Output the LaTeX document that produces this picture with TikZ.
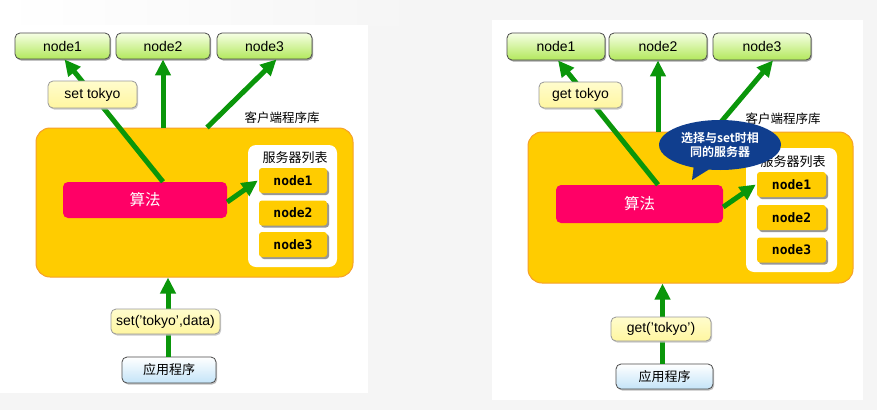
\documentclass[tikz,border=0pt]{standalone}
\usepackage{fontspec}
\setmainfont{Liberation Sans}
\newfontfamily\cjk{Noto Sans CJK SC}[BoldFont={Noto Sans CJK SC Bold}]
\newfontfamily\monob{DejaVu Sans Mono Bold}
\usetikzlibrary{arrows.meta,shadows,shapes.callouts}
\definecolor{bggray}{RGB}{245,245,245}
\definecolor{arrowgreen}{RGB}{10,150,10}
\definecolor{greentop}{RGB}{246,255,228}
\definecolor{greenbot}{RGB}{178,232,92}
\definecolor{labelyellow}{RGB}{255,246,160}
\definecolor{labelyellowtop}{RGB}{255,252,205}
\definecolor{orangefill}{RGB}{255,204,0}
\definecolor{orangeedge}{RGB}{246,160,40}
\definecolor{algred}{RGB}{255,0,102}
\definecolor{bluebot}{RGB}{196,228,248}
\definecolor{calloutblue}{RGB}{16,62,142}
\begin{document}
\begin{tikzpicture}[x=1pt,y=-1pt,
  topnode/.style={draw=black!70, line width=0.8pt, rounded corners=5pt,
    top color=greentop, bottom color=greenbot, inner sep=0pt,
    minimum height=26pt, font=\fontsize{14}{15}\selectfont,
    drop shadow={shadow xshift=1.2pt, shadow yshift=-1.5pt, fill=black!45, opacity=0.8}},
  yellowlabel/.style={draw=black!40, line width=0.8pt, rounded corners=5pt,
    top color=labelyellowtop, bottom color=labelyellow, inner sep=0pt,
    font=\fontsize{14}{16}\selectfont,
    drop shadow={shadow xshift=1.2pt, shadow yshift=-1.5pt, fill=black!25, opacity=0.8}},
  clientbox/.style={draw=orangeedge, line width=1pt, fill=orangefill, rounded corners=14pt, inner sep=0pt},
  algbox/.style={fill=algred, rounded corners=5pt, inner sep=0pt, text=white,
    font=\cjk\fontsize{15.5}{17}\selectfont},
  listbox/.style={fill=white, rounded corners=8pt, inner sep=0pt},
  servernode/.style={fill=orangefill, rounded corners=3pt, inner sep=0pt,
    minimum width=68pt, minimum height=25pt, font=\monob\fontsize{13}{15}\selectfont,
    drop shadow={shadow xshift=2pt, shadow yshift=-2pt, fill=black!45, opacity=0.9}},
  appbox/.style={draw=black!70, line width=0.8pt, rounded corners=5pt,
    top color=white, bottom color=bluebot, inner sep=0pt,
    font=\cjk\fontsize{13}{15}\selectfont,
    drop shadow={shadow xshift=1.2pt, shadow yshift=-1.5pt, fill=black!30, opacity=0.8}},
  cjklabel/.style={font=\cjk\fontsize{12.5}{14}\selectfont, inner sep=0pt},
  greenarrow/.style={draw=arrowgreen, line width=5pt, -{Triangle[length=16pt,width=15pt]}},
]
% background and panels
\fill[bggray] (0,0) rectangle (877,410);
\useasboundingbox (0,0) rectangle (877,410);
\shade[left color=white, right color=bggray] (0,0) rectangle (420,25);
\fill[white] (0,25) rectangle (368,393);
\fill[white] (492,20) rectangle (863,400);

% ================= LEFT =================
\node[topnode, minimum width=95pt] (LN1) at (62.5,46) {node1};
\node[topnode, minimum width=94pt] (LN2) at (163,46) {node2};
\node[topnode, minimum width=95pt] (LN3) at (264.5,46) {node3};
\node[cjklabel] (Llib) at (282,118) {客户端程序库};
\node[clientbox, minimum width=317pt, minimum height=149pt] (Lorange) at (194.5,202.5) {};
\node[algbox, minimum width=164pt, minimum height=36pt] (Lalg) at (145,200) {算法};
\node[listbox, minimum width=89pt, minimum height=122pt] (Lwhite) at (292.5,206) {};
\node[cjklabel, font=\cjk\fontsize{13}{15}\selectfont] (Llist) at (295,158) {服务器列表};
\node[servernode] (Ls1) at (293,180.5) {node1};
\node[servernode] (Ls2) at (293,213) {node2};
\node[servernode] (Ls3) at (293,244.5) {node3};
\node[appbox, minimum width=94pt, minimum height=26pt] (Lapp) at (169,370) {应用程序};

\draw[greenarrow] (Lalg.north -| LN2.south) -- ([xshift=2pt]LN1.south);
\draw[greenarrow] (Lorange.north -| LN2.south) -- (LN2.south);
\draw[greenarrow] ([xshift=12.5pt]Lorange.north) -- ([xshift=12pt]LN3.south);
\draw[greenarrow] ([yshift=-2pt]Lalg.east) -- ([xshift=-1pt]Ls1.west);
\draw[greenarrow] ([xshift=-1pt]Lapp.north) -- ([xshift=-1pt]Lapp.north |- Lorange.south);

\node[yellowlabel, minimum width=89pt, minimum height=27pt] (Lset) at (92.5,94.5) {set tokyo};
\node[yellowlabel, minimum width=109pt, minimum height=25pt] (Lcall) at (165.5,321.5) {set('tokyo',data)};

% ================= RIGHT =================
\node[topnode, minimum width=98pt, minimum height=27pt] (RN1) at (556,46.5) {node1};
\node[topnode, minimum width=98pt, minimum height=27pt] (RN2) at (658,46.5) {node2};
\node[topnode, minimum width=98pt, minimum height=27pt] (RN3) at (762,46.5) {node3};
\node[cjklabel] (Rlib) at (783,119) {客户端程序库};
\node[clientbox, minimum width=325pt, minimum height=151pt] (Rorange) at (690.5,207.5) {};
\node[algbox, minimum width=167pt, minimum height=38pt] (Ralg) at (639.5,204) {算法};
\node[listbox, minimum width=91pt, minimum height=124pt] (Rwhite) at (791.5,210) {};
\node[cjklabel, font=\cjk\fontsize{13}{15}\selectfont] (Rlist) at (793,162) {服务器列表};
\node[servernode, minimum width=69pt] (Rs1) at (791.5,184.5) {node1};
\node[servernode, minimum width=69pt] (Rs2) at (791.5,217.5) {node2};
\node[servernode, minimum width=69pt] (Rs3) at (791.5,250) {node3};
\node[appbox, minimum width=97pt, minimum height=25pt] (Rapp) at (664.5,376.5) {应用程序};

\draw[greenarrow] (Ralg.north -| RN2.south) -- ([xshift=2pt]RN1.south);
\draw[greenarrow] (Rorange.north -| RN2.south) -- (RN2.south);
\draw[greenarrow] ([xshift=22.5pt]Rorange.north) -- ([xshift=11pt]RN3.south);
\draw[greenarrow] ([yshift=-3pt]Ralg.east) -- ([xshift=-1pt]Rs1.west);
\draw[greenarrow] ([xshift=-2pt]Rapp.north) -- ([xshift=-2pt]Rapp.north |- Rorange.south);

\node[yellowlabel, minimum width=83pt, minimum height=26pt] (Rget) at (580.5,95) {get tokyo};
\node[yellowlabel, minimum width=100pt, minimum height=24pt] (Rcall) at (661,329) {get('tokyo')};

\node[ellipse callout, fill=calloutblue, minimum width=122pt, minimum height=50pt,
  callout absolute pointer={(692,180)}, inner sep=0pt, text=white, align=center,
  font=\cjk\bfseries\fontsize{12}{14}\selectfont] (Rbubble) at (720,145) {选择与set时相\\同的服务器};
\end{tikzpicture}
\end{document}
